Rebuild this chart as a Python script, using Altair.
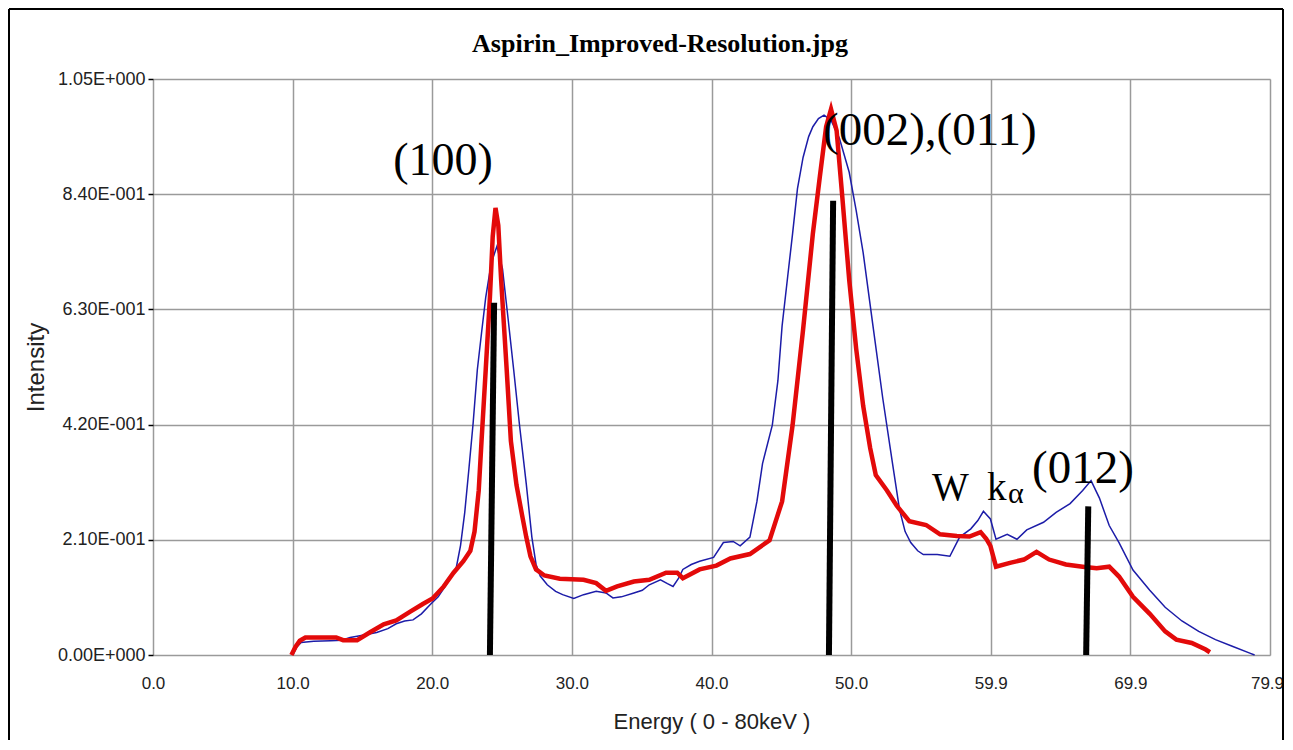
import altair as alt
import pandas as pd

# ---- data ----
blue_energy = [10.0, 10.3, 10.6, 11.5, 12.7, 13.5, 14.1, 15.0, 16.0, 16.8, 17.4, 18.0, 18.6, 19.2,
               19.8, 20.4, 20.9, 21.4, 21.7, 22.0, 22.3, 22.6, 22.9, 23.2, 23.5, 23.8, 24.2, 24.6,
               25.0, 25.4, 25.8, 26.2, 26.7, 27.1, 27.4, 27.7, 28.2, 28.8, 29.3, 30.1, 30.8, 31.7,
               32.4, 32.9, 33.5, 34.4, 35.0, 35.5, 36.3, 36.8, 37.2, 37.6, 37.9, 38.5, 39.1, 40.1,
               40.8, 41.5, 42.0, 42.7, 43.2, 43.6, 44.3, 44.7, 45.0, 45.4, 45.75, 46.1, 46.5, 46.9,
               47.2, 47.6, 48.0, 48.5, 49.1, 49.8, 50.3, 50.8, 51.5, 52.2, 52.9, 53.4, 53.8, 54.2,
               54.7, 55.1, 56.1, 57.0, 57.7, 58.5, 59.0, 59.4, 59.9, 60.3, 61.1, 61.8, 62.5, 63.7,
               64.6, 65.6, 66.5, 67.1, 67.7, 68.4, 69.1, 70.1, 71.3, 72.4, 73.6, 74.8, 76.0, 77.2,
               78.5, 78.8]
blue_intensity = [0.0, 0.015, 0.023, 0.025, 0.026, 0.027, 0.032, 0.036, 0.041, 0.048, 0.057, 0.062,
                  0.064, 0.075, 0.091, 0.106, 0.125, 0.145, 0.160, 0.200, 0.260, 0.340, 0.423, 0.520,
                  0.587, 0.652, 0.715, 0.745, 0.704, 0.613, 0.520, 0.423, 0.312, 0.215, 0.165, 0.144,
                  0.128, 0.116, 0.110, 0.103, 0.110, 0.116, 0.113, 0.104, 0.106, 0.113, 0.118, 0.128,
                  0.137, 0.130, 0.125, 0.140, 0.156, 0.165, 0.171, 0.178, 0.205, 0.207, 0.199, 0.215,
                  0.280, 0.349, 0.419, 0.500, 0.600, 0.690, 0.768, 0.850, 0.907, 0.945, 0.963, 0.978,
                  0.984, 0.975, 0.942, 0.880, 0.810, 0.733, 0.600, 0.468, 0.349, 0.265, 0.225, 0.205,
                  0.190, 0.183, 0.183, 0.180, 0.215, 0.230, 0.245, 0.262, 0.248, 0.211, 0.220, 0.211,
                  0.228, 0.242, 0.260, 0.276, 0.300, 0.318, 0.286, 0.236, 0.205, 0.155, 0.118, 0.087,
                  0.062, 0.043, 0.028, 0.016, 0.003, 0.0]

red_energy = [9.9, 10.2, 10.5, 10.9, 13.1, 13.6, 14.6, 15.5, 16.5, 17.4, 18.4, 19.3, 20.0, 20.8,
              21.5, 22.2, 22.7, 23.0, 23.3, 23.5, 23.8, 24.1, 24.3, 24.5, 24.7, 24.9, 25.3, 25.6,
              26.0, 26.4, 26.7, 27.0, 27.4, 28.0, 29.1, 30.8, 31.7, 32.4, 33.2, 34.4, 35.5, 36.7,
              37.5, 37.9, 39.1, 40.3, 41.3, 42.7, 44.1, 45.0, 45.75, 46.5, 47.2, 47.7, 48.15, 48.5,
              48.9, 49.3, 49.8, 50.3, 50.8, 51.3, 51.7, 52.5, 53.2, 54.1, 55.3, 56.3, 57.5, 58.4,
              59.2, 59.6, 59.9, 60.3, 61.3, 62.3, 63.2, 64.1, 65.3, 66.5, 67.5, 68.4, 69.1, 70.1,
              71.3, 72.4, 73.2, 74.3, 75.3, 75.6]
red_intensity = [0.0, 0.015, 0.026, 0.032, 0.032, 0.027, 0.027, 0.041, 0.056, 0.063, 0.079, 0.093,
                 0.103, 0.125, 0.150, 0.171, 0.190, 0.225, 0.300, 0.390, 0.520, 0.652, 0.763, 0.815,
                 0.783, 0.685, 0.520, 0.390, 0.310, 0.255, 0.215, 0.180, 0.156, 0.145, 0.139, 0.137,
                 0.131, 0.117, 0.125, 0.134, 0.137, 0.150, 0.150, 0.140, 0.156, 0.163, 0.176, 0.184,
                 0.209, 0.280, 0.419, 0.593, 0.768, 0.872, 0.963, 0.995, 0.956, 0.837, 0.684, 0.558,
                 0.454, 0.377, 0.328, 0.300, 0.272, 0.244, 0.237, 0.220, 0.217, 0.216, 0.224, 0.212,
                 0.199, 0.161, 0.168, 0.174, 0.188, 0.174, 0.165, 0.161, 0.158, 0.161, 0.143, 0.106,
                 0.075, 0.043, 0.028, 0.022, 0.010, 0.005]

stick_energy_bottom = [24.1, 48.35, 66.75]
stick_energy_top = [24.4, 48.65, 66.9]
stick_intensity = [0.642, 0.828, 0.271]

x_tick_values = [0.0, 9.9875, 19.975, 29.9625, 39.95, 49.9375, 59.925, 69.9125, 79.9]
x_tick_labels = ["0.0", "10.0", "20.0", "30.0", "40.0", "50.0", "59.9", "69.9", "79.9"]
y_tick_values = [0.0, 0.21, 0.42, 0.63, 0.84, 1.05]
y_tick_labels = ["0.00E+000", "2.10E-001", "4.20E-001", "6.30E-001", "8.40E-001", "1.05E+000"]

title_text = "Aspirin_Improved-Resolution.jpg"

# ---- tables ----
blue_df = pd.DataFrame({"energy": blue_energy, "intensity": blue_intensity})
red_df = pd.DataFrame({"energy": red_energy, "intensity": red_intensity})
stick_df = pd.DataFrame({"e0": stick_energy_bottom, "e1": stick_energy_top, "h": stick_intensity})
one = pd.DataFrame({"k": [0]})

W, H = 1117, 576
LABEL_FONT = "Liberation Sans"
SERIF = "Liberation Serif"

x_labels_js = "[" + ",".join("'%s'" % s for s in x_tick_labels) + "]"
y_labels_js = "[" + ",".join("'%s'" % s for s in y_tick_labels) + "]"

x_scale = alt.Scale(domain=[0, 79.9], nice=False, zero=False)
y_scale = alt.Scale(domain=[0, 1.05], nice=False, zero=False)

x_axis = alt.Axis(
    values=x_tick_values,
    labelExpr=x_labels_js + "[round(datum.value / 9.9875)]",
    title="Energy ( 0 - 80keV )",
    grid=True, gridColor="#9a9a9a", gridWidth=1.5,
    domain=False, ticks=False,
    labelFont=LABEL_FONT, labelFontSize=17, labelColor="#222222", labelPadding=20,
    labelFlush=False, labelOverlap=False,
    labelOffset={"condition": {"test": "datum.value > 79", "value": -3}, "value": 0},
    titleFont=LABEL_FONT, titleFontSize=22, titleFontWeight="normal", titleColor="#222222",
    titleY=66, titleBaseline="middle",
)
y_axis = alt.Axis(
    values=y_tick_values,
    labelExpr=y_labels_js + "[round(datum.value / 0.21)]",
    title="Intensity",
    grid=True, gridColor="#9a9a9a", gridWidth=1.5,
    domain=False, ticks=True, tickColor="black", tickSize=5, tickWidth=1.5,
    labelFont=LABEL_FONT, labelFontSize=18, labelColor="#222222", labelPadding=3,
    labelFlush=False, labelOverlap=False,
    titleFont=LABEL_FONT, titleFontSize=24, titleFontWeight="normal", titleColor="#222222",
    titleX=-117, titleY=H / 2, titleBaseline="middle", titleAlign="center", titleAngle=270,
)

x_enc = alt.X("energy:Q", scale=x_scale, axis=x_axis)
y_enc = alt.Y("intensity:Q", scale=y_scale, axis=y_axis)

blue_line = alt.Chart(blue_df).mark_line(color="#1c1ca8", strokeWidth=1.5).encode(x=x_enc, y=y_enc)
red_line = alt.Chart(red_df).mark_line(color="#e30a0a", strokeWidth=4.5).encode(x=x_enc, y=y_enc)

# stick goes from (top energy, intensity) down to (bottom energy, 0)
sticks = alt.Chart(stick_df).mark_rule(color="black", strokeWidth=6, strokeCap="butt").encode(
    x=alt.X("e1:Q", scale=x_scale),
    x2="e0:Q",
    y=alt.Y("h:Q", scale=y_scale),
    y2=alt.datum(0),
)

def label(text, px, py, size, align="left", font=SERIF, weight="normal"):
    return alt.Chart(one).mark_text(
        text=text, font=font, fontSize=size, fontWeight=weight, align=align,
        baseline="alphabetic", color="black",
    ).encode(x=alt.value(px), y=alt.value(py))

title = label(title_text, 507, -27, 26, align="center", weight="bold")
ann_100 = label("(100)", 290, 96, 46, align="center")
ann_002 = label("(002),(011)", 670, 66, 47)
ann_w = label("W", 779, 421, 39)
ann_k = label("k", 834, 421, 39)
ann_alpha = label("\u03b1", 855, 424, 30)
ann_012 = label("(012)", 879, 404, 47)

def hline(x0, x1, y):
    return alt.Chart(one).mark_rule(color="black", strokeWidth=2).encode(
        x=alt.value(x0), x2=alt.value(x1), y=alt.value(y))

def vline(x, y0, y1):
    return alt.Chart(one).mark_rule(color="black", strokeWidth=2).encode(
        x=alt.value(x), y=alt.value(y0), y2=alt.value(y1))

border_top = hline(-144, 1130, -70)
border_left = vline(-144, -70, H + 120)
border_right = vline(1130, -70, H + 120)

chart = alt.layer(
    blue_line, red_line, sticks, title, ann_100, ann_002, ann_w, ann_k, ann_alpha, ann_012,
    border_top, border_left, border_right
).properties(
    width=W, height=H,
    autosize=alt.AutoSizeParams(type="none"),
    padding={"left": 145, "top": 71, "right": 15, "bottom": 85},
).configure_view(
    stroke="black", strokeWidth=3.5
).configure(background="white")

chart.save("out.html", embed_options={"renderer": "svg", "actions": False})
